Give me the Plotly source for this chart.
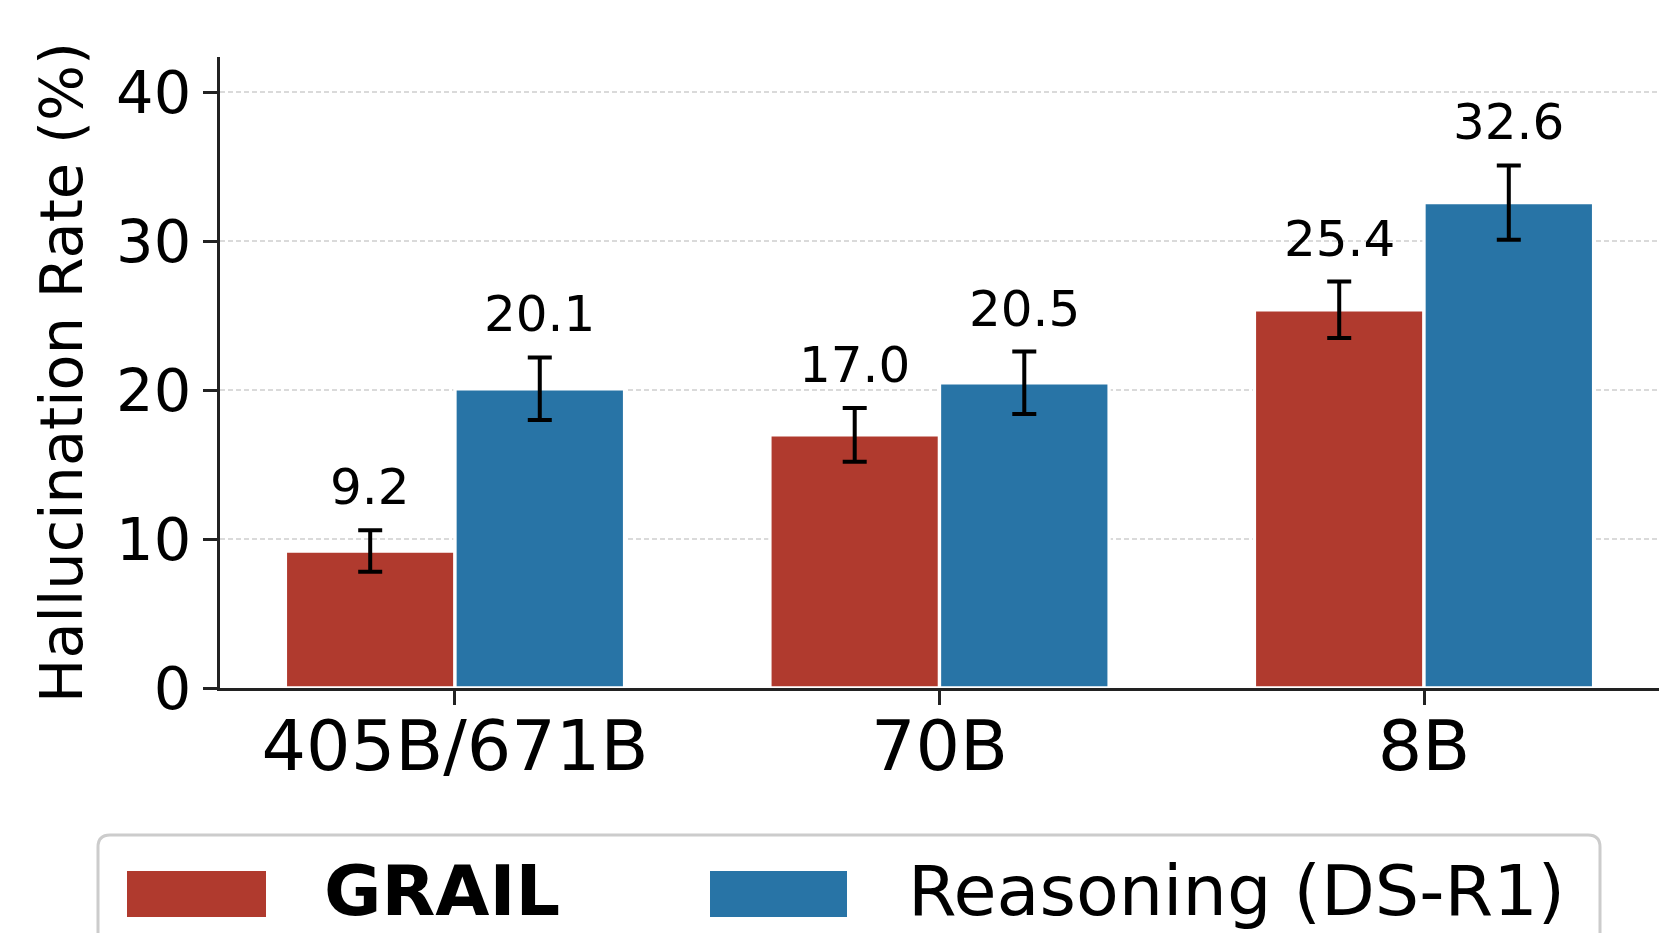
import plotly.graph_objects as go

# Model sizes on the x axis
categories = ["405B/671B", "70B", "8B"]

# Hallucination rate (%) and error bar half-widths per series
series_names = ["GRAIL", "Reasoning (DS-R1)"]
grail_values = [9.2, 17.0, 25.4]
grail_errors = [1.4, 1.8, 1.9]
reasoning_values = [20.1, 20.5, 32.6]
reasoning_errors = [2.1, 2.1, 2.5]

y_ticks = [0, 10, 20, 30, 40]

RED = "#B03A2E"
BLUE = "#2874A6"
FONT = "DejaVu Sans"
W, H = 1660, 933
ML, MR, MT, MB = 220, 1, 57, 245
BAR_W = 0.35

x_pos = list(range(len(categories)))

fig = go.Figure()
series = [
    (series_names[0], grail_values, grail_errors, RED, -BAR_W / 2),
    (series_names[1], reasoning_values, reasoning_errors, BLUE, BAR_W / 2),
]
for name, vals, errs, color, off in series:
    fig.add_trace(go.Bar(
        x=x_pos, y=vals, name=name,
        marker=dict(color=color, line=dict(color="white", width=3.3)),
        error_y=dict(type="data", array=errs, color="black",
                     thickness=4, width=12),
        showlegend=False,
    ))
    # value labels sitting above each error bar
    for xi, v, e in zip(x_pos, vals, errs):
        fig.add_annotation(
            x=xi + off, y=v + e, text=f"{v:.1f}", showarrow=False,
            xanchor="center", yanchor="bottom", yshift=12,
            font=dict(family=FONT, size=50, color="black"),
        )

# hand-built legend below the axes (large patches like a matplotlib legend)
plot_h = H - MT - MB
plot_w = W - ML - MR


def px_x(px):
    return (px - ML) / plot_w


def px_y(py):
    return (H - MB - py) / plot_h


# legend frame with rounded top corners, running off the bottom edge
x0, x1, y0, y1, r = px_x(98), px_x(1600), px_y(835), px_y(1000), 12
rx, ry = r / plot_w, r / plot_h
frame_path = (
    f"M {x0},{y1} L {x0},{y0 - ry} Q {x0},{y0} {x0 + rx},{y0} "
    f"L {x1 - rx},{y0} Q {x1},{y0} {x1},{y0 - ry} L {x1},{y1} Z"
)
fig.add_shape(type="path", path=frame_path, xref="paper", yref="paper",
              line=dict(color="#cccccc", width=3), fillcolor="white",
              layer="above")

legend_items = [
    (series_names[0], RED, 127, 266, 322, True),
    (series_names[1], BLUE, 710, 847, 906, False),
]
for name, color, p0, p1, tx, bold in legend_items:
    fig.add_shape(type="rect", xref="paper", yref="paper",
                  x0=px_x(p0), x1=px_x(p1), y0=px_y(871), y1=px_y(917),
                  fillcolor=color, line=dict(width=0), layer="above")
    fig.add_annotation(
        x=px_x(tx), y=px_y(891), xref="paper", yref="paper",
        text=f"<b>{name}</b>" if bold else name, showarrow=False,
        xanchor="left", yanchor="middle",
        font=dict(family=FONT, size=70, color="black"),
    )

axis_common = dict(
    showline=True, linecolor="#222222", linewidth=3,
    ticks="outside", ticklen=14, tickwidth=3, tickcolor="#222222",
    layer="below traces", zeroline=False,
)

fig.update_layout(
    width=W, height=H,
    margin=dict(l=ML, r=MR, t=MT, b=MB, pad=0),
    paper_bgcolor="white", plot_bgcolor="white",
    barmode="group", bargap=0.3, bargroupgap=0,
    font=dict(family=FONT, color="black"),
    xaxis=dict(
        range=[-0.485, 2.485], tickvals=x_pos, ticktext=categories,
        tickfont=dict(family=FONT, size=70, color="black"),
        ticklabelstandoff=-19,
        showgrid=False, **axis_common,
    ),
    yaxis=dict(
        range=[0, 42.38], tickvals=y_ticks,
        tickfont=dict(family=FONT, size=59, color="black"),
        showgrid=True, gridcolor="#dadada", gridwidth=2, griddash="5px,3px",
        title=dict(text="Hallucination Rate (%)",
                   font=dict(family=FONT, size=59, color="black"),
                   standoff=15),
        **axis_common,
    ),
)

fig.write_html("out.html")
